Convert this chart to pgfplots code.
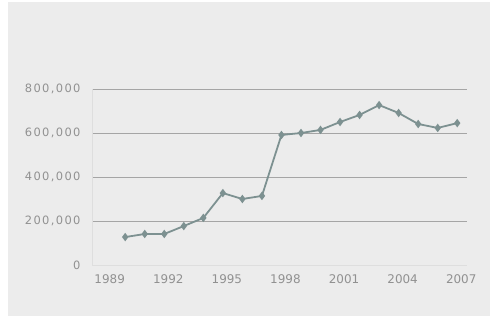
\documentclass[border=0pt]{standalone}
\usepackage{pgfplots}
\pgfplotsset{compat=1.18}
\usepackage{fontspec}
\setmainfont{DejaVu Sans}
\newfontfamily\yfont[LetterSpace=12]{DejaVu Sans}
\definecolor{bg}{RGB}{236,236,236}
\definecolor{txt}{RGB}{145,145,145}
\definecolor{grd}{RGB}{165,165,165}
\definecolor{ln}{RGB}{125,145,145}
\definecolor{fnt}{RGB}{222,222,222}
\begin{document}
\begin{tikzpicture}
\fill[white] (0bp,0bp) rectangle (493bp,323bp);
\fill[bg] (8bp,7bp) rectangle (490bp,321bp);
\begin{axis}[
  at={(92bp,58bp)}, anchor=south west,
  scale only axis, width=375bp, height=176bp,
  xmin=1988.3, xmax=2007.5, ymin=0, ymax=800000,
  xtick={1989,1992,1995,1998,2001,2004,2007},
  xticklabels={1989,1992,1995,1998,2001,2004,2007},
  ytick={0,200000,400000,600000,800000},
  yticklabels={0,{200,000},{400,000},{600,000},{800,000}},
  axis x line*=bottom, axis y line*=left,
  axis line style={fnt, line width=0.8pt},
  separate axis lines,
  ymajorgrids, grid style={grd, line width=0.8pt},
  tick style={draw=none},
  scaled y ticks=false,
  x tick label style={font=\fontsize{12}{13}\selectfont, text=txt, yshift=-6bp, xshift=4bp},
  y tick label style={font=\yfont\fontsize{11.5}{13}\selectfont, text=txt, xshift=-8bp},
  clip=false,
]
\addplot[ln, line width=1.8pt, mark=diamond*, mark size=2.8pt, mark options={fill=ln, draw=ln}] coordinates {
(1990,127000) (1991,141000) (1992,141000) (1993,177000) (1994,214000)
(1995,327000) (1996,300000) (1997,314000) (1998,591000) (1999,600000)
(2000,614000) (2001,650000) (2002,682000) (2003,727000) (2004,691000)
(2005,641000) (2006,623000) (2007,645000)
};
\end{axis}
\end{tikzpicture}
\end{document}
